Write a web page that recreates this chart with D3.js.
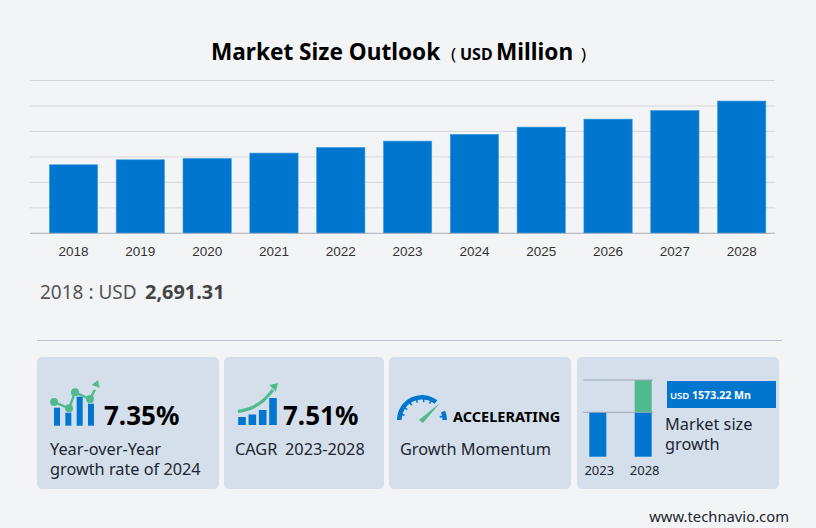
<!DOCTYPE html>
<html>
<head>
<meta charset="utf-8">
<script src="https://d3js.org/d3.v7.min.js"></script>
<style>
  html, body { margin: 0; padding: 0; background: #f3f4f6; }
  svg { display: block; }
  text { font-family: "Noto Sans", sans-serif; }
</style>
</head>
<body>
<div id="chart"></div>
<script>
// main chart
var years = ["2018","2019","2020","2021","2022","2023","2024","2025","2026","2027","2028"];
var marketSize = [2691.31, 2886, 2940, 3150, 3372, 3620, 3886, 4170, 4483, 4823, 5193];
var gridTicks = [0, 1000, 2000, 3000, 4000, 5000, 6000];

// small bars in the "market size growth" card
var miniYears = ["2023", "2028"];
var miniBase = [3620, 3620];
var miniTop = [3620, 5193];

// kpi icons
var yoyBars = [18, 13, 29, 22];
var yoyLine = [[-0.26, 23.7], [1.06, 17.4], [1.59, 33.4], [2.91, 26.7], [3.35, 36]];
var cagrBars = [8, 10.5, 15, 27];
var cagrCurve = [[-0.4, 13.5], [1, 17.5], [2, 24], [3, 35]];
var gaugeTicks = [-75, -55, -35, -15, 5, 25, 80];

var BLUE = "#0076cf", GREEN = "#4fbb8c", CARD = "#d5dfeb";

var svg = d3.select("#chart").append("svg")
    .attr("width", 816)
    .attr("height", 528);

svg.append("rect").attr("width", 816).attr("height", 528).attr("fill", "#f3f4f6");

function label(x, y, str, size, weight, color, anchor) {
  return svg.append("text")
    .attr("x", x).attr("y", y)
    .attr("font-size", size)
    .attr("font-weight", weight || 400)
    .attr("fill", color || "#1c2530")
    .attr("text-anchor", anchor || "start")
    .text(str);
}

// title
label(211, 60, "Market Size Outlook", 22.6, 700, "#000");
label(451, 60, "(", 17, 400, "#000");
label(460, 60, "USD", 16, 700, "#000");
label(496, 60, "Million", 22.6, 700, "#000");
label(581, 60, ")", 17, 400, "#000");

// scales
var x = d3.scaleBand()
    .domain(years)
    .range([40.1, 775.1])
    .paddingInner(0.277)
    .paddingOuter(0.1385);

var y = d3.scaleLinear()
    .domain([0, 6000])
    .range([233.3, 80.5]);

// gridlines
var grid = svg.append("g")
    .attr("transform", "translate(30,0)")
    .call(d3.axisLeft(y).tickValues(gridTicks).tickSize(-745).tickFormat("").offset(0));
grid.select(".domain").remove();
grid.selectAll("line").attr("stroke", "#d6d7dc").attr("stroke-width", 1);

// bars
svg.selectAll("rect.bar")
    .data(years)
    .enter()
    .append("rect")
      .attr("class", "bar")
      .attr("x", function(d) { return x(d); })
      .attr("y", function(d, i) { return y(marketSize[i]); })
      .attr("width", x.bandwidth())
      .attr("height", function(d, i) { return y(0) - y(marketSize[i]); })
      .attr("fill", BLUE)
      .attr("stroke", "#3f9ce2")
      .attr("stroke-width", 0.6);

// x axis
var xAxis = svg.append("g")
    .attr("transform", "translate(0,234.3)")
    .call(d3.axisBottom(x).tickSize(0).tickPadding(12));
xAxis.select(".domain").remove();
xAxis.selectAll("text")
    .style("font-family", "'Liberation Sans', Arial, sans-serif")
    .attr("font-size", 13.5)
    .attr("fill", "#333");
svg.append("line")
    .attr("x1", 30).attr("x2", 775)
    .attr("y1", y(0)).attr("y2", y(0))
    .attr("stroke", "#b4b6bc");

// first value
label(40, 299, "2018 : USD", 19, 400, "#555");
label(145, 298.5, d3.format(",.2f")(marketSize[0]), 19.9, 700, "#444");

// divider
svg.append("line")
    .attr("x1", 37).attr("x2", 782)
    .attr("y1", 340.5).attr("y2", 340.5)
    .attr("stroke", "#bdbfcc");

// cards
var cardX = [37, 224, 389, 577];
var cardW = [182, 160, 182, 202];
svg.selectAll("rect.card")
    .data(cardX)
    .enter()
    .append("rect")
      .attr("class", "card")
      .attr("x", function(d) { return d; })
      .attr("y", 357)
      .attr("width", function(d, i) { return cardW[i]; })
      .attr("height", 132)
      .attr("rx", 5)
      .attr("fill", CARD);

function arrowHead(tip, from, size) {
  var a = Math.atan2(tip[1] - from[1], tip[0] - from[0]);
  var pts = [tip,
    [tip[0] - size * Math.cos(a + 0.55), tip[1] - size * Math.sin(a + 0.55)],
    [tip[0] - size * Math.cos(a - 0.55), tip[1] - size * Math.sin(a - 0.55)]];
  svg.append("path").attr("d", d3.line()(pts) + "Z").attr("fill", GREEN);
}

// card 1 icon
var yoyX = d3.scaleLinear().domain([0, 3]).range([57, 91]);
var yoyY = d3.scaleLinear().domain([0, 40]).range([425.7, 385.7]);
svg.selectAll("rect.yoy")
    .data(yoyBars)
    .enter()
    .append("rect")
      .attr("x", function(d, i) { return yoyX(i) - 3; })
      .attr("y", function(d) { return yoyY(d); })
      .attr("width", 6)
      .attr("height", function(d) { return yoyY(0) - yoyY(d); })
      .attr("fill", BLUE);
var yoyPts = yoyLine.map(function(d) { return [yoyX(d[0]), yoyY(d[1])]; });
svg.append("path")
    .attr("d", d3.line()(yoyPts))
    .attr("fill", "none")
    .attr("stroke", GREEN)
    .attr("stroke-width", 2.4);
svg.selectAll("circle.yoy")
    .data(yoyPts.slice(0, 4))
    .enter()
    .append("circle")
      .attr("cx", function(d) { return d[0]; })
      .attr("cy", function(d) { return d[1]; })
      .attr("r", 4)
      .attr("fill", GREEN);
arrowHead([98, 380], [94, 391], 8);

label(104, 425, "7.35%", 26, 700, "#000");
label(50, 455, "Year-over-Year", 16.3);
label(50, 475, "growth rate of 2024", 16.3);

// card 2 icon
var cagrX = d3.scaleLinear().domain([0, 3]).range([242, 273]);
var cagrY = d3.scaleLinear().domain([0, 40]).range([425, 385]);
svg.selectAll("rect.cagr")
    .data(cagrBars)
    .enter()
    .append("rect")
      .attr("x", function(d, i) { return cagrX(i) - 3.8; })
      .attr("y", function(d) { return cagrY(d); })
      .attr("width", 7.6)
      .attr("height", function(d) { return cagrY(0) - cagrY(d); })
      .attr("fill", BLUE);
svg.append("path")
    .attr("d", d3.line().curve(d3.curveMonotoneX)(
      cagrCurve.map(function(d) { return [cagrX(d[0]), cagrY(d[1])]; })
    ))
    .attr("fill", "none")
    .attr("stroke", GREEN)
    .attr("stroke-width", 3.2);
arrowHead([278, 383], [270, 391], 9);

label(283, 425, "7.51%", 26, 700, "#000");
label(235, 455, "CAGR", 16.3);
label(285, 455, "2023-2028", 16.3);

// card 3 gauge
var deg = Math.PI / 180;
var gauge = svg.append("g").attr("transform", "translate(422,420)");
var arc = d3.arc().innerRadius(20.5).outerRadius(25);
gauge.append("path")
    .attr("d", arc({startAngle: -90 * deg, endAngle: 38 * deg}))
    .attr("fill", BLUE);
gauge.append("path")
    .attr("d", arc({startAngle: 68 * deg, endAngle: 90 * deg}))
    .attr("fill", BLUE);
gauge.selectAll("line")
    .data(gaugeTicks)
    .enter()
    .append("line")
      .attr("x1", function(d) { return 22 * Math.sin(d * deg); })
      .attr("y1", function(d) { return -22 * Math.cos(d * deg); })
      .attr("x2", function(d) { return 18 * Math.sin(d * deg); })
      .attr("y2", function(d) { return -18 * Math.cos(d * deg); })
      .attr("stroke", BLUE)
      .attr("stroke-width", 1.6);
svg.append("path")
    .attr("d", "M419,420 L440,403 L423,423 Z")
    .attr("fill", GREEN);

label(453, 422, "ACCELERATING", 14.5, 700, "#000");
label(400, 455, "Growth Momentum", 16.3);

// card 4 mini chart
var miniX = d3.scaleBand().domain(miniYears).range([575.1, 665.9]).paddingInner(0.626).paddingOuter(0.313);
var miniY = d3.scaleLinear().domain([1458, 5193]).range([456.7, 380]);

svg.selectAll("rect.miniTop")
    .data(miniYears)
    .enter()
    .append("rect")
      .attr("x", function(d) { return miniX(d); })
      .attr("y", function(d, i) { return miniY(miniTop[i]); })
      .attr("width", miniX.bandwidth())
      .attr("height", function(d, i) { return miniY(miniBase[i]) - miniY(miniTop[i]); })
      .attr("fill", GREEN);
svg.selectAll("rect.miniBase")
    .data(miniYears)
    .enter()
    .append("rect")
      .attr("x", function(d) { return miniX(d); })
      .attr("y", function(d, i) { return miniY(miniBase[i]); })
      .attr("width", miniX.bandwidth())
      .attr("height", function(d, i) { return miniY(1458) - miniY(miniBase[i]); })
      .attr("fill", BLUE);
svg.selectAll("line.mini")
    .data([miniTop[1], miniBase[0]])
    .enter()
    .append("line")
      .attr("x1", 583).attr("x2", 653)
      .attr("y1", function(d) { return miniY(d); })
      .attr("y2", function(d) { return miniY(d); })
      .attr("stroke", "#9aa6b4");
miniYears.forEach(function(d) {
  label(miniX(d) + miniX.bandwidth() / 2 + 1.5, 475, d, 13, 400, "#1c2530", "middle");
});

svg.append("rect")
    .attr("x", 667).attr("y", 381)
    .attr("width", 109).attr("height", 27)
    .attr("fill", BLUE);
label(670, 399, "USD", 9.5, 600, "#fff");
label(692, 399, "1573.22 Mn", 10.6, 700, "#fff");
label(665, 430, "Market size", 16.3);
label(665, 450, "growth", 16.3);

label(789, 522, "www.technavio.com", 14.8, 400, "#1c2530", "end");
</script>
</body>
</html>
